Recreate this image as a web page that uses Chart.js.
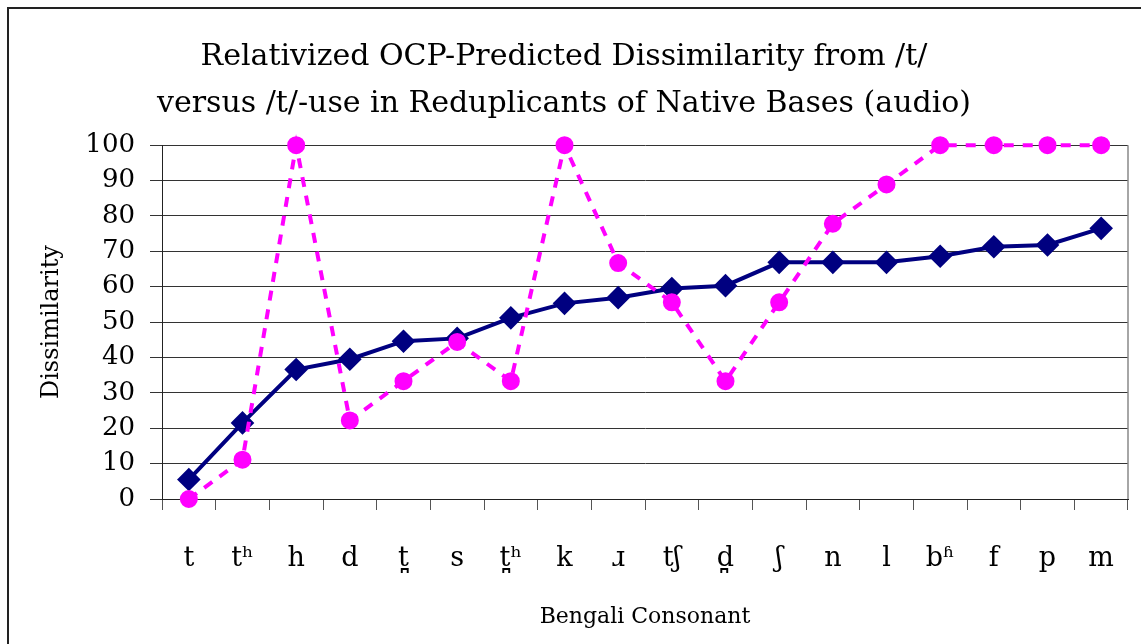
<!DOCTYPE html>
<html>
<head>
<meta charset="utf-8">
<script src="https://cdn.jsdelivr.net/npm/chart.js@4"></script>
<style>
  html, body { margin: 0; padding: 0; background: #fff; }
  #wrap { width: 1141px; height: 644px; }
</style>
</head>
<body>
<div id="wrap"><canvas id="myChart" width="1141" height="644"></canvas></div>
<script>
var consonants = ["t", "tʰ", "h", "d", "t̪", "s", "t̪ʰ", "k", "ɹ", "tʃ", "d̪", "ʃ", "n", "l", "bʱ", "f", "p", "m"];
var tUse = [5.5, 21.5, 36.6, 39.5, 44.6, 45.4, 51.2, 55.3, 56.9, 59.5, 60.3, 66.9, 66.9, 66.9, 68.6, 71.3, 71.8, 76.5];
var ocpDissimilarity = [0, 11.1, 100, 22.2, 33.3, 44.4, 33.3, 100, 66.7, 55.6, 33.3, 55.6, 77.8, 88.9, 100, 100, 100, 100];
var yTicks = [0, 10, 20, 30, 40, 50, 60, 70, 80, 90, 100];

var serif = "'DejaVu Serif', serif";

// outer frame and right edge of the plot area
var framePlugin = {
  id: "frame",
  afterDraw: function (chart) {
    var ctx = chart.ctx;
    var area = chart.chartArea;
    ctx.save();
    ctx.strokeStyle = "#222";
    ctx.lineWidth = 2;
    ctx.beginPath();
    ctx.moveTo(8, 644);
    ctx.lineTo(8, 8);
    ctx.lineTo(1141, 8);
    ctx.stroke();
    ctx.strokeStyle = "#888";
    ctx.lineWidth = 1.5;
    ctx.beginPath();
    ctx.moveTo(area.right, area.top);
    ctx.lineTo(area.right, area.bottom);
    ctx.stroke();
    ctx.restore();
  },
};

var ctx = document.getElementById("myChart").getContext("2d");
var myChart = new Chart(ctx, {
  type: "line",
  data: {
    labels: consonants,
    datasets: [
      {
        label: "/t/-use",
        data: tUse,
        borderColor: "#000080",
        backgroundColor: "#000080",
        borderWidth: 4,
        pointStyle: "rectRot",
        pointRadius: 9,
        pointHoverRadius: 9,
        tension: 0,
        clip: false,
        order: 1,
      },
      {
        label: "OCP-Predicted Dissimilarity",
        data: ocpDissimilarity,
        borderColor: "#ff00ff",
        backgroundColor: "#ff00ff",
        borderWidth: 4,
        borderDash: [10, 9],
        pointStyle: "circle",
        pointRadius: 7,
        pointHoverRadius: 7,
        tension: 0,
        clip: false,
        order: 0,
      },
    ],
  },
  options: {
    responsive: false,
    animation: false,
    layout: { autoPadding: false, padding: { left: 0, right: 13, top: 0, bottom: 0 } },
    plugins: {
      legend: { display: false },
      tooltip: { enabled: false },
      title: {
        display: true,
        text: [
          "Relativized OCP-Predicted Dissimilarity from /t/",
          "versus /t/-use in Reduplicants of Native Bases (audio)",
        ],
        color: "#000",
        font: { family: serif, size: 30, weight: "normal", lineHeight: 1.57 },
        padding: { top: 34, bottom: 17 },
      },
    },
    scales: {
      x: {
        offset: true,
        afterFit: function (scale) {
          scale.height = 145;
          scale.paddingLeft = 0;
          scale.paddingRight = 0;
        },
        grid: {
          offset: true,
          drawOnChartArea: false,
          drawTicks: true,
          tickLength: 11,
          color: "#555",
        },
        border: { color: "#222", width: 1 },
        ticks: {
          color: "#000",
          font: { family: serif, size: 27 },
          padding: 33,
          maxRotation: 0,
          autoSkip: false,
        },
        title: {
          display: true,
          text: "Bengali Consonant",
          color: "#000",
          font: { family: serif, size: 22 },
          padding: { top: 0, bottom: 14 },
        },
      },
      y: {
        min: 0,
        max: 100,
        afterFit: function (scale) {
          scale.width = 162;
        },
        afterBuildTicks: function (scale) {
          scale.ticks = yTicks.map(function (v) {
            return { value: v };
          });
        },
        grid: {
          color: "#333",
          lineWidth: 1,
          tickLength: 12,
        },
        border: { color: "#222", width: 1 },
        ticks: {
          color: "#000",
          font: { family: serif, size: 26 },
          padding: 15,
        },
        title: {
          display: true,
          text: "Dissimilarity",
          color: "#000",
          font: { family: serif, size: 24 },
          padding: { top: 37, bottom: 0 },
        },
      },
    },
  },
  plugins: [framePlugin],
});
</script>
</body>
</html>
